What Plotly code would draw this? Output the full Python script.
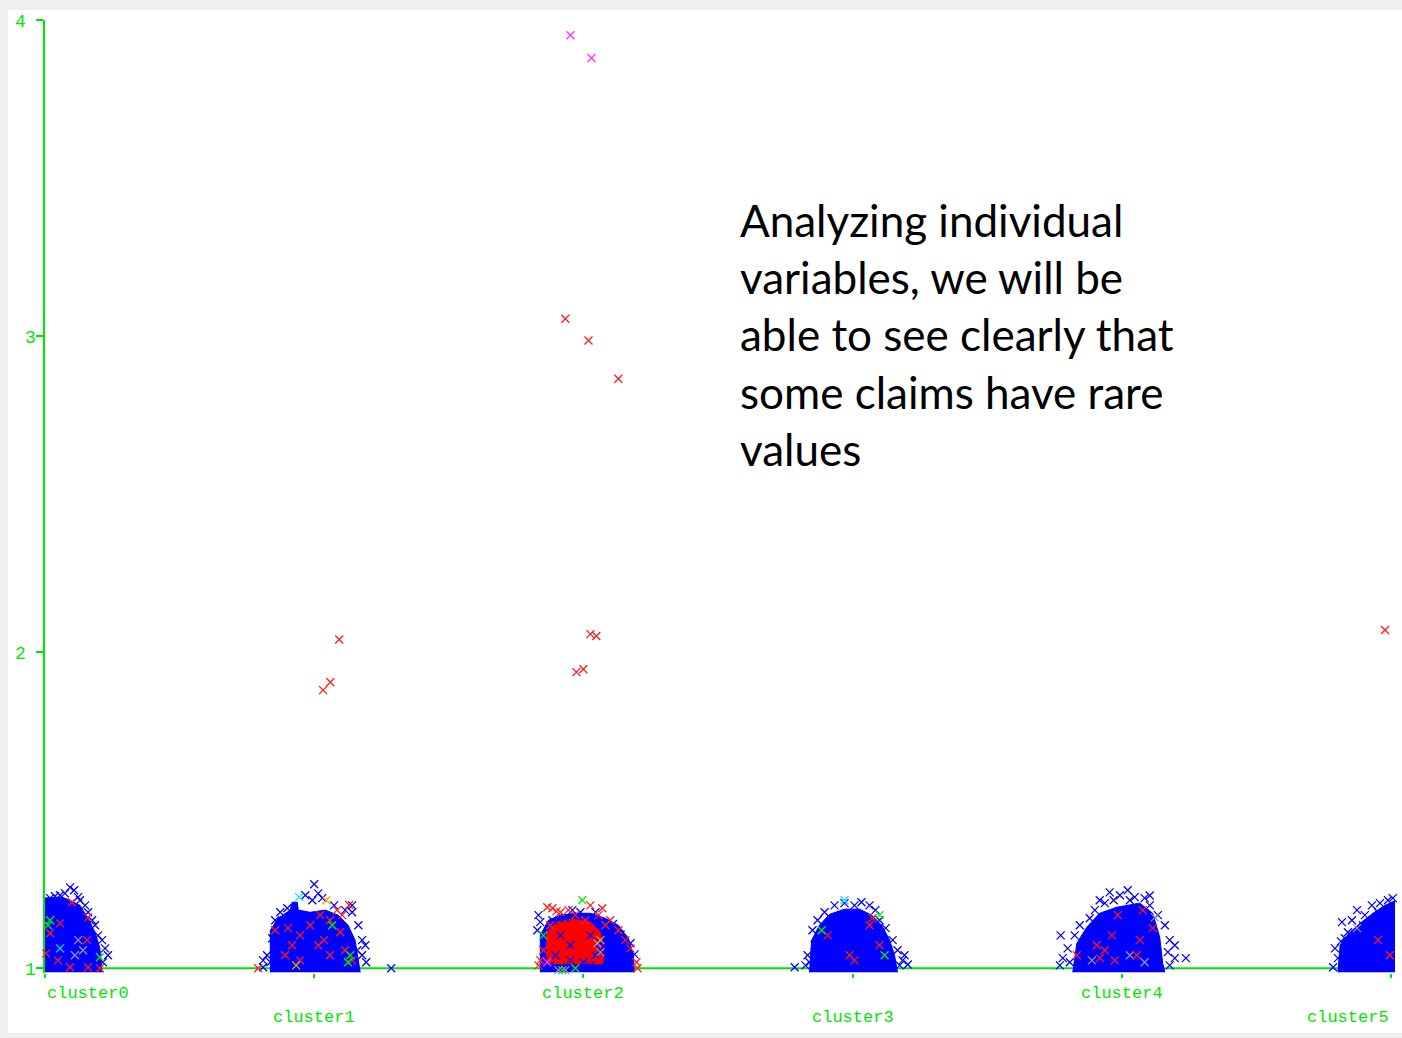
import plotly.graph_objects as go

# Categories on the x axis (cluster assignment)
categories = ["cluster0", "cluster1", "cluster2", "cluster3", "cluster4", "cluster5"]
y_ticks = [1, 2, 3, 4]

# Dense cores of each cluster: outline given as (jitter offset, value)
core_dx = {
    0: [-0.011, -0.011, 0.063, 0.093, 0.130, 0.160, 0.186, 0.204, 0.212],
    1: [-0.163, -0.163, -0.134, -0.089, -0.082, -0.063, -0.059, -0.015, 0.041, 0.089, 0.126, 0.152, 0.171],
    2: [-0.160, -0.160, -0.130, -0.085, -0.030, 0.026, 0.082, 0.130, 0.167, 0.186, 0.189],
    3: [-0.160, -0.152, -0.123, -0.085, -0.030, 0.026, 0.071, 0.108, 0.138, 0.156, 0.167],
    4: [-0.182, -0.167, -0.130, -0.082, -0.019, 0.067, 0.115, 0.141, 0.152, 0.160],
    5: [-0.197, -0.189, -0.152, -0.115, -0.067, -0.022, 0.019, 0.019],
}
core_y = {
    0: [0.987, 1.222, 1.225, 1.215, 1.199, 1.158, 1.114, 1.063, 0.987],
    1: [0.987, 1.120, 1.158, 1.184, 1.209, 1.209, 1.184, 1.177, 1.184, 1.168, 1.136, 1.089, 0.987],
    2: [0.987, 1.104, 1.152, 1.168, 1.174, 1.174, 1.158, 1.136, 1.095, 1.041, 0.987],
    3: [0.987, 1.089, 1.136, 1.171, 1.187, 1.187, 1.168, 1.136, 1.089, 1.041, 0.987],
    4: [0.987, 1.079, 1.130, 1.174, 1.193, 1.206, 1.174, 1.098, 1.016, 0.987],
    5: [0.987, 1.073, 1.114, 1.142, 1.174, 1.199, 1.215, 0.987],
}
# Red-dominated centre of cluster2
core2_red_dx = [-0.134, -0.137, -0.100, -0.041, 0.026, 0.063, 0.078, 0.071]
core2_red_y = [1.013, 1.111, 1.146, 1.155, 1.146, 1.114, 1.063, 1.013]

# Individual instances: cluster index, horizontal jitter, value
blue_cluster = [0] * 18 + [1] * 25 + [2] * 33 + [3] * 22 + [4] * 28 + [5] * 16
blue_jitter = [
    0.074, 0.093, 0.108, 0.056, 0.130, 0.149, 0.160, 0.175, 0.186, 0.197, 0.212, 0.223, 0.234, 0.215, 0.197, 0.019, 0.037, 0.123,
    0.000, -0.033, 0.015, -0.007, 0.030, 0.141, 0.141, 0.115, 0.164, 0.178, 0.190, 0.178, 0.193, 0.286, -0.190, -0.163, -0.190,
    -0.145, -0.126, 0.160, -0.119, -0.175, -0.156, 0.074, -0.100,
    -0.167, -0.160, -0.171, -0.115, -0.041, -0.067, -0.011, 0.045, 0.138, 0.156, 0.167, 0.119, 0.063, 0.026, -0.048, -0.104,
    0.100, 0.149, 0.000, -0.085, 0.082, 0.175, 0.190,
    0.063, 0.100, 0.045, 0.138, 0.082, 0.026, -0.048, -0.123, 0.110, 0.119,
    -0.215, -0.149, -0.130, -0.104, -0.067, -0.030, 0.007, 0.033, 0.063, 0.085, 0.100, 0.123, 0.149, 0.167, 0.186, 0.175,
    -0.167, -0.160, -0.141, 0.193, -0.175, 0.205,
    -0.227, -0.045, -0.007, 0.022, 0.048, -0.063, -0.100, -0.119, -0.156, -0.175, -0.201, -0.219, -0.230, -0.193, 0.085, 0.104,
    0.134, 0.160, 0.178, 0.197, 0.171, 0.197, 0.238, 0.178, -0.082, 0.030, 0.104, -0.030,
    -0.215, -0.208, -0.182, -0.197, -0.171, -0.126, -0.145, -0.097, -0.071, -0.041, -0.011, 0.007, -0.104, -0.048, -0.160, -0.186,
]
blue_value = [
    1.237, 1.256, 1.247, 1.231, 1.215, 1.199, 1.177, 1.152, 1.136, 1.104, 1.089, 1.063, 1.041, 1.019, 1.032, 1.222, 1.228, 1.225,
    1.266, 1.231, 1.237, 1.215, 1.222, 1.199, 1.177, 1.184, 1.136, 1.089, 1.073, 1.041, 1.019, 1.000, 1.003, 1.019, 1.025,
    1.152, 1.177, 1.057, 1.009, 1.041, 1.095, 1.199, 1.190,
    1.168, 1.146, 1.120, 1.152, 1.184, 1.158, 1.177, 1.177, 1.107, 1.057, 1.032, 1.089, 1.057, 1.104, 1.073, 1.041,
    1.019, 1.009, 1.019, 1.104, 1.089, 1.079, 1.044,
    1.079, 1.104, 1.041, 1.041, 1.057, 1.009, 1.025, 1.009, 1.140, 1.060,
    1.003, 1.120, 1.152, 1.177, 1.199, 1.206, 1.199, 1.209, 1.199, 1.184, 1.152, 1.127, 1.089, 1.057, 1.025, 1.009,
    1.041, 1.019, 1.073, 1.041, 1.009, 1.012,
    1.104, 1.240, 1.231, 1.247, 1.225, 1.206, 1.184, 1.158, 1.136, 1.104, 1.063, 1.032, 1.009, 1.019, 1.222, 1.199,
    1.168, 1.136, 1.089, 1.073, 1.051, 1.032, 1.032, 1.009, 1.215, 1.215, 1.230, 1.215,
    1.003, 1.063, 1.146, 1.032, 1.095, 1.184, 1.152, 1.168, 1.199, 1.206, 1.215, 1.222, 1.136, 1.177, 1.114, 1.085,
]

red_cluster = [0] * 10 + [1] * 22 + [2] * 28 + [3] * 6 + [4] * 11 + [5] * 3
red_jitter = [
    0.160, 0.056, 0.019, 0.048, 0.093, 0.156, 0.160, 0.204, 0.004, 0.100,
    -0.208, -0.145, -0.097, -0.052, -0.015, 0.022, 0.059, 0.085, 0.104, 0.015, 0.059, 0.115, -0.052, -0.108, 0.141, 0.037,
    -0.082, 0.097, 0.130, 0.033, 0.060, 0.093,
    -0.134, -0.115, -0.085, -0.056, -0.030, 0.026, 0.056, 0.100, 0.130, 0.156, 0.175, 0.197, 0.201, -0.160, -0.167, -0.149,
    0.082, 0.007, -0.123, -0.100, 0.070, -0.067, 0.019, 0.130, 0.026, 0.048, -0.026, 0.000,
    0.074, 0.063, 0.007, -0.011, 0.100, -0.093,
    0.078, 0.115, -0.015, -0.037, -0.063, -0.082, -0.026, 0.067, 0.056, -0.167, -0.093,
    -0.022, -0.048, -0.004,
]
red_value = [
    1.161, 1.142, 1.111, 1.025, 1.003, 1.089, 1.003, 1.000, 1.047, 1.209,
    1.000, 1.120, 1.127, 1.104, 1.136, 1.168, 1.152, 1.184, 1.168, 1.073, 1.041, 1.057, 1.025, 1.041, 1.025, 1.089,
    1.073, 1.114, 1.200, 1.880, 1.905, 2.040,
    1.193, 1.190, 1.177, 1.184, 1.168, 1.199, 1.168, 1.152, 1.120, 1.089, 1.063, 1.019, 1.000, 1.025, 1.009, 1.057,
    1.136, 1.152, 1.136, 1.180, 1.190, 3.055, 2.986, 2.865, 2.057, 2.051, 1.937, 1.946,
    1.158, 1.136, 1.025, 1.041, 1.073, 1.104,
    1.184, 1.127, 1.168, 1.104, 1.057, 1.032, 1.025, 1.089, 1.041, 1.041, 1.073,
    2.070, 1.089, 1.041,
]

magenta_cluster = [2, 2, 2]
magenta_jitter = [-0.048, 0.030, -0.134]
magenta_value = [3.952, 3.880, 1.019]

green_cluster = [0, 0, 0, 1, 1, 1, 2, 2, 2, 2, 3, 3, 3]
green_jitter = [0.019, 0.011, 0.204, 0.134, 0.126, 0.067, -0.004, -0.149, -0.030, -0.078, 0.100, 0.119, -0.115]
green_value = [1.152, 1.136, 1.035, 1.041, 1.019, 1.136, 1.215, 1.104, 1.000, 0.994, 1.168, 1.041, 1.120]

cyan_cluster = [0, 1, 3]
cyan_jitter = [0.056, -0.056, -0.030]
cyan_value = [1.063, 1.225, 1.215]

gray_cluster = [0, 0, 0, 2, 2, 2, 2, 4, 4, 4, 4, 5]
gray_jitter = [0.123, 0.141, 0.111, 0.052, 0.063, -0.093, -0.067, 0.123, 0.030, 0.085, -0.111, -0.126]
gray_value = [1.089, 1.057, 1.041, 1.079, 1.051, 0.994, 0.994, 1.161, 1.041, 1.019, 1.025, 1.127]

orange_cluster = [1, 1, 2]
orange_jitter = [0.045, -0.067, 0.063]
orange_value = [1.215, 1.009, 1.089]

AXIS_GREEN = "#00e600"
BLUE = "#0000ff"
MONO = "Liberation Mono, Courier New, monospace"

fig = go.Figure()

# Solid cores of the clusters
for i in range(len(categories)):
    fig.add_trace(go.Scatter(
        x=[i + d for d in core_dx[i]], y=core_y[i],
        mode="lines", fill="toself", fillcolor=BLUE,
        line=dict(color=BLUE, width=1), hoverinfo="skip", showlegend=False,
    ))
fig.add_trace(go.Scatter(
    x=[2 + d for d in core2_red_dx], y=core2_red_y,
    mode="lines", fill="toself", fillcolor="#ff0000",
    line=dict(color="#ff0000", width=1), hoverinfo="skip", showlegend=False,
))


def add_points(cl, jit, val, color):
    fig.add_trace(go.Scatter(
        x=[c + j for c, j in zip(cl, jit)], y=val, mode="markers",
        marker=dict(symbol="x-thin-open", size=8, color=color,
                    line=dict(width=1.3, color=color)),
        cliponaxis=False, showlegend=False,
    ))


add_points(blue_cluster, blue_jitter, blue_value, BLUE)
add_points(gray_cluster, gray_jitter, gray_value, "#9a8fb0")
add_points(red_cluster, red_jitter, red_value, "#ff1a1a")
add_points(green_cluster, green_jitter, green_value, "#00ee00")
add_points(cyan_cluster, cyan_jitter, cyan_value, "#00e5ff")
add_points(orange_cluster, orange_jitter, orange_value, "#ffa500")
add_points(magenta_cluster, magenta_jitter, magenta_value, "#ff33ff")

annotations = []
# Staggered category labels under the axis
for i, name in enumerate(categories):
    if i == 0:
        xa = "left"
    elif i == len(categories) - 1:
        xa = "right"
    else:
        xa = "center"
    annotations.append(dict(
        x=i, xref="x", y=-0.021 if i % 2 == 0 else -0.047, yref="paper",
        text=name, showarrow=False, xanchor=xa, yanchor="middle",
        font=dict(family=MONO, size=17, color=AXIS_GREEN),
    ))
# Staggered value labels on the y axis
for v in y_ticks:
    annotations.append(dict(
        x=-0.0178 if v % 2 == 0 else -0.0104, xref="paper", y=v, yref="y", yshift=-2,
        text=str(v), showarrow=False, xanchor="center", yanchor="middle",
        font=dict(family=MONO, size=18, color=AXIS_GREEN),
    ))

# Commentary text
commentary = ["Analyzing individual", "variables, we will be", "able to see clearly that",
              "some claims have rare", "values"]
annotations.append(dict(
    x=0.5133, xref="paper", y=0.6695, yref="paper",
    text="<br>".join(commentary), showarrow=False, align="left",
    xanchor="left", yanchor="middle",
    font=dict(family="Lato, Carlito, sans-serif", size=44, color="#000000"),
))

fig.update_layout(
    width=1402, height=1038,
    margin=dict(l=45, r=7, t=20, b=65),
    paper_bgcolor="#efefef", plot_bgcolor="#ffffff",
    showlegend=False,
    annotations=annotations,
    shapes=[
        dict(type="rect", xref="paper", yref="paper", x0=-0.0274, x1=1.01, y0=-0.063, y1=1.0105,
             fillcolor="#ffffff", line=dict(width=0), layer="below"),
        dict(type="line", xref="x", yref="y", x0=0, x1=5.015, y0=1, y1=1,
             line=dict(color=AXIS_GREEN, width=2), layer="below"),
    ],
    xaxis=dict(
        range=[0, 5.015], tickvals=list(range(len(categories))), showticklabels=False,
        ticks="outside", ticklen=4, tickwidth=2, tickcolor=AXIS_GREEN,
        showgrid=False, zeroline=False, showline=False, fixedrange=True,
    ),
    yaxis=dict(
        range=[0.985, 4.0], tickvals=y_ticks, showticklabels=False,
        ticks="outside", ticklen=7, tickwidth=2, tickcolor=AXIS_GREEN,
        showgrid=False, zeroline=False, showline=True, linecolor=AXIS_GREEN, linewidth=2,
        layer="below traces", fixedrange=True,
    ),
)

fig.write_html("out.html")
